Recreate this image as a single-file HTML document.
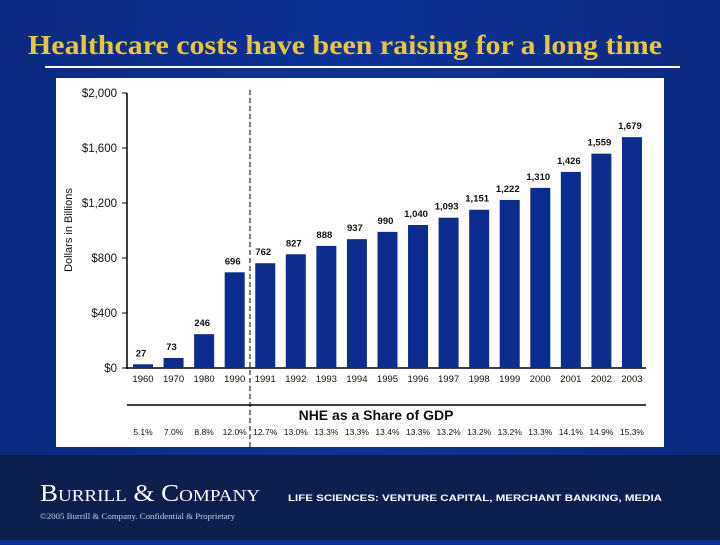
<!DOCTYPE html>
<html><head><meta charset="utf-8"><style>
body{margin:0;width:720px;height:540px;overflow:hidden;background:#0a3296;font-family:"Liberation Sans",sans-serif}
</style></head><body>
<svg width="720" height="540" viewBox="0 0 720 540">
<defs><linearGradient id="bg" x1="0" x2="1" y1="0" y2="0"><stop offset="0" stop-color="#0a2a80"/><stop offset="0.5" stop-color="#0d3399"/><stop offset="1" stop-color="#0a2a80"/></linearGradient></defs>
<rect width="720" height="455" fill="url(#bg)"/>
<rect y="455" width="720" height="85" fill="#0c1f4e"/>
<text x="28" y="54" font-family="Liberation Serif,serif" font-weight="bold" font-size="27" fill="#e8c53a" textLength="634" lengthAdjust="spacingAndGlyphs">Healthcare costs have been raising for a long time</text>
<rect x="45" y="66" width="635" height="2" fill="#fff"/>
<rect x="56" y="78" width="608" height="369" fill="#fff"/>
<g id="chart"></g>
<text x="40" y="501" font-family="Liberation Serif,serif" font-size="24" fill="#fff" textLength="220" lengthAdjust="spacingAndGlyphs">B<tspan font-size="17">URRILL</tspan> &amp; C<tspan font-size="17">OMPANY</tspan></text>
<text x="40" y="519" font-family="Liberation Serif,serif" font-size="8" fill="#c8cde0" textLength="195" lengthAdjust="spacingAndGlyphs">©2005 Burrill &amp; Company. Confidential &amp; Proprietary</text>
<text x="288" y="501" font-size="9" font-weight="bold" fill="#fff" textLength="374" lengthAdjust="spacingAndGlyphs">LIFE SCIENCES: VENTURE CAPITAL, MERCHANT BANKING, MEDIA</text>
</svg>
<script>
const years=["1960","1970","1980","1990","1991","1992","1993","1994","1995","1996","1997","1998","1999","2000","2001","2002","2003"];
const spending=[27,73,246,696,762,827,888,937,990,1040,1093,1151,1222,1310,1426,1559,1679];
const valueLabels=["27","73","246","696","762","827","888","937","990","1,040","1,093","1,151","1,222","1,310","1,426","1,559","1,679"];
const gdpShare=["5.1%","7.0%","8.8%","12.0%","12.7%","13.0%","13.3%","13.3%","13.4%","13.3%","13.2%","13.2%","13.2%","13.3%","14.1%","14.9%","15.3%"];
const yTicks=[0,400,800,1200,1600,2000];
const yTickLabels=["$0","$400","$800","$1,200","$1,600","$2,000"];
const NS="http://www.w3.org/2000/svg";
const g=document.getElementById('chart');
const y0=368,yTop=93,yMax=2000;
const y=v=>y0-(v/yMax)*(y0-yTop);
const x=i=>143+i*30.56;
function mk(t,a,txt){const e=document.createElementNS(NS,t);for(const k in a)e.setAttribute(k,a[k]);if(txt!==undefined)e.textContent=txt;g.appendChild(e);return e;}
let e=mk('line',{x1:127,y1:yTop,x2:127,y2:y0+1,stroke:'#000','stroke-width':1.5});


e=mk('line',{x1:126,y1:y0,x2:646,y2:y0,stroke:'#000','stroke-width':1.5});


yTicks.forEach((v,i)=>{
 let t=mk('line',{x1:122,x2:127,y1:y(v),y2:y(v),stroke:'#000'});
 
 
 let l=mk('text',{x:117,y:y(v)+4,'text-anchor':'end','font-size':11.5,fill:'#111'},yTickLabels[i]);
 
 
});
e=mk('text',{x:72,y:230,'text-anchor':'middle','font-size':11,fill:'#111',transform:'rotate(-90 72 230)'},'Dollars in Billions');


spending.forEach((v,i)=>{
 let b=mk('rect',{x:x(i)-10,y:y(v),width:20,height:y0-y(v),fill:'#0a2d8f'});
 
 
 let l=mk('text',{x:x(i)-2,y:y(v)-8,'text-anchor':'middle','font-size':9.5,'font-weight':'bold',fill:'#111'},valueLabels[i]);
 
 
 let yl=mk('text',{x:x(i),y:382,'text-anchor':'middle','font-size':9.5,fill:'#111'},years[i]);
 
 
 let p=mk('text',{x:x(i),y:435,'text-anchor':'middle','font-size':8.5,fill:'#111'},gdpShare[i]);
 
 
});
e=mk('line',{x1:250,y1:90,x2:250,y2:447,stroke:'#000','stroke-dasharray':'5,3'});


e=mk('line',{x1:127,y1:405,x2:646,y2:405,stroke:'#000','stroke-width':1.5});


e=mk('text',{x:376,y:420,'text-anchor':'middle','font-size':14,'font-weight':'bold',fill:'#111'},'NHE as a Share of GDP');


</script>
</body></html>
